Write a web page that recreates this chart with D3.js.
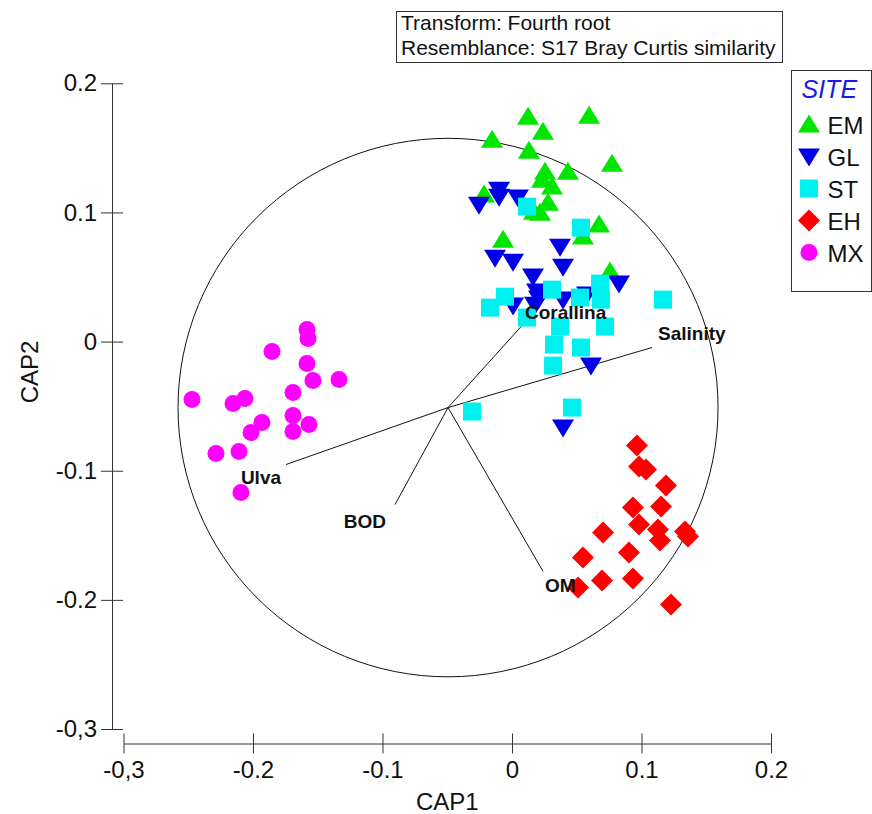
<!DOCTYPE html>
<html>
<head>
<meta charset="utf-8">
<script src="https://cdn.jsdelivr.net/npm/d3@7"></script>
<style>
  body { margin: 0; background: #fff; }
  text { font-family: "Liberation Sans", Arial, sans-serif; }
</style>
</head>
<body>
<div id="chart"></div>
<script>
// CONSTANTS
const width = 872;
const height = 814;

// DATA (CAP1, CAP2)
const emPoints = [
  [0.0124, 0.1741], [0.0595, 0.1749], [0.0239, 0.1625], [-0.0154, 0.1563],
  [0.0131, 0.1478], [0.0772, 0.1378], [0.0255, 0.1316], [0.0432, 0.1316],
  [0.0232, 0.1254], [0.0309, 0.12], [-0.0216, 0.1138], [0.0278, 0.1076],
  [0.0216, 0.0998], [0.017, 0.1006], [0.0672, 0.0906], [0.0548, 0.0813],
  [-0.0069, 0.0789], [0.0757, 0.0542]
];
const glPoints = [
  [-0.0255, 0.106], [-0.01, 0.1176], [-0.01, 0.1122], [0.0046, 0.1115],
  [0.0371, 0.0735], [-0.0131, 0.065], [0.0008, 0.0619], [0.0394, 0.058],
  [0.0162, 0.0503], [0.0193, 0.0387], [0.0208, 0.0333], [0.0394, 0.0325],
  [0.0579, 0.0364], [0.0826, 0.0449], [0.0008, 0.0279], [0.0178, 0.0286],
  [0.061, -0.0186], [0.0394, -0.0666]
];
const stPoints = [
  [0.0116, 0.1045], [0.0533, 0.0882], [-0.0054, 0.0348], [-0.017, 0.0263],
  [0.0309, 0.0402], [0.068, 0.0449], [0.0525, 0.0341], [0.0687, 0.0325],
  [0.0116, 0.0186], [0.0371, 0.0116], [0.0718, 0.0116], [0.1166, 0.0325],
  [0.0324, -0.0023], [0.0533, -0.0046], [0.0317, -0.0186], [-0.0309, -0.0542],
  [0.0463, -0.0511]
];
const ehPoints = [
  [0.0965, -0.0805], [0.0981, -0.0967], [0.1035, -0.0991], [0.1189, -0.1115],
  [0.0934, -0.1285], [0.1151, -0.1277], [0.0703, -0.1478], [0.0981, -0.1416],
  [0.1127, -0.1455], [0.1143, -0.154], [0.1336, -0.1471], [0.1359, -0.1509],
  [0.0548, -0.1672], [0.0903, -0.1633], [0.0695, -0.185], [0.0934, -0.1834],
  [0.051, -0.1904], [0.1228, -0.2036]
];
const mxPoints = [
  [-0.1583, 0.0093], [-0.1575, 0.0023], [-0.1853, -0.0077], [-0.1583, -0.017],
  [-0.1537, -0.0302], [-0.1336, -0.0294], [-0.1691, -0.0395], [-0.2471, -0.0449],
  [-0.2062, -0.0441], [-0.2154, -0.048], [-0.1691, -0.0573], [-0.1568, -0.0642],
  [-0.1931, -0.0627], [-0.2015, -0.0704], [-0.1691, -0.0697], [-0.2286, -0.0867],
  [-0.2108, -0.0851], [-0.2093, -0.1169]
];

const siteNames = ["EM", "GL", "ST", "EH", "MX"];
const siteColors = ["#00e600", "#0000e6", "#00f0f0", "#ff0000", "#ff00ff"];
const siteShapes = ["triUp", "triDown", "square", "diamond", "circle"];
const sitePoints = [emPoints, glPoints, stPoints, ehPoints, mxPoints];

// vector overlay: common origin, circle radius, vector tips (plot coords)
const vectorOrigin = [-0.0494, -0.0511];
const circleRadius = 0.2085;
const vectorNames = ["Corallina", "Salinity", "Ulva", "BOD", "OM"];
const vectorX = [0.0077, 0.1081, -0.1745, -0.0903, 0.024];
const vectorY = [0.0124, -0.0046, -0.0952, -0.1262, -0.178];

const xTicks = [-0.3, -0.2, -0.1, 0, 0.1, 0.2];
const xTickLabels = ["-0,3", "-0.2", "-0.1", "0", "0.1", "0.2"];
const yTicks = [0.2, 0.1, 0, -0.1, -0.2, -0.3];
const yTickLabels = ["0.2", "0.1", "0", "-0.1", "-0.2", "-0,3"];

const svg = d3
  .select("#chart")
  .append("svg")
  .attr("width", width)
  .attr("height", height)
  .style("background", "#fff");

const x = d3.scaleLinear().domain([-0.3, 0.2]).range([123.5, 771]);
const y = d3.scaleLinear().domain([-0.3, 0.2]).range([729, 83.3]);

// axes (PRIMER style: detached, ticks crossing the line)
const yAxis = svg
  .append("g")
  .attr("transform", "translate(112,0)")
  .call(
    d3.axisLeft(y)
      .tickValues(yTicks)
      .tickSizeInner(11)
      .tickSizeOuter(0)
      .tickPadding(4)
      .tickFormat((d, i) => yTickLabels[i])
  );
yAxis.selectAll(".tick line").attr("x1", 11);
yAxis.selectAll("text").style("font-size", "24px").attr("fill", "#111");
yAxis.selectAll("path, line").attr("stroke", "#333");

const xAxis = svg
  .append("g")
  .attr("transform", "translate(0,743.5)")
  .call(
    d3.axisBottom(x)
      .tickValues(xTicks)
      .tickSizeInner(10)
      .tickSizeOuter(0)
      .tickPadding(7)
      .tickFormat((d, i) => xTickLabels[i])
  );
xAxis.selectAll(".tick line").attr("y1", -10);
xAxis.selectAll("text").style("font-size", "24px").attr("fill", "#111");
xAxis.selectAll("path, line").attr("stroke", "#333");

svg
  .append("text")
  .attr("x", (x(-0.3) + x(0.2)) / 2)
  .attr("y", 810)
  .attr("text-anchor", "middle")
  .style("font-size", "24px")
  .attr("fill", "#111")
  .text("CAP1");

svg
  .append("text")
  .attr("transform", "translate(38,372) rotate(-90)")
  .attr("text-anchor", "middle")
  .style("font-size", "24px")
  .attr("fill", "#111")
  .text("CAP2");

// correlation circle
svg
  .append("ellipse")
  .attr("cx", x(vectorOrigin[0]))
  .attr("cy", y(vectorOrigin[1]))
  .attr("rx", x(vectorOrigin[0] + circleRadius) - x(vectorOrigin[0]))
  .attr("ry", y(vectorOrigin[1]) - y(vectorOrigin[1] + circleRadius))
  .attr("fill", "none")
  .attr("stroke", "#111")
  .attr("stroke-width", 1);

const vectors = vectorNames.map((name, i) => ({ name, vx: vectorX[i], vy: vectorY[i] }));

svg
  .selectAll(".vector")
  .data(vectors)
  .enter()
  .append("line")
  .classed("vector", true)
  .attr("x1", x(vectorOrigin[0]))
  .attr("y1", y(vectorOrigin[1]))
  .attr("x2", (d) => x(d.vx))
  .attr("y2", (d) => y(d.vy))
  .attr("stroke", "#111")
  .attr("stroke-width", 1);

// symbol paths, centred on 0,0
const shapePath = {
  triUp: "M0,-10L11,8L-11,8Z",
  triDown: "M0,10L11,-8L-11,-8Z",
  square: "M-9,-9H9V9H-9Z",
  diamond: "M0,-11L11,0L0,11L-11,0Z",
  circle: d3.symbol(d3.symbolCircle, Math.PI * 8.5 * 8.5)(),
};

siteNames.forEach((site, i) => {
  svg
    .selectAll(".pt-" + site)
    .data(sitePoints[i])
    .enter()
    .append("path")
    .attr("class", "pt-" + site)
    .attr("d", shapePath[siteShapes[i]])
    .attr("transform", (d) => `translate(${x(d[0])},${y(d[1])})`)
    .attr("fill", siteColors[i]);
});

// vector labels
const labelPos = {
  Corallina: { dx: 3, dy: -7, anchor: "start" },
  Salinity: { dx: 6, dy: -8, anchor: "start" },
  Ulva: { dx: -5, dy: 19, anchor: "end" },
  BOD: { dx: -9, dy: 23, anchor: "end" },
  OM: { dx: 2, dy: 21, anchor: "start" },
};

svg
  .selectAll(".vlabel")
  .data(vectors)
  .enter()
  .append("text")
  .classed("vlabel", true)
  .attr("x", (d) => x(d.vx) + labelPos[d.name].dx)
  .attr("y", (d) => y(d.vy) + labelPos[d.name].dy)
  .attr("text-anchor", (d) => labelPos[d.name].anchor)
  .style("font-size", "19px")
  .style("font-weight", "bold")
  .attr("fill", "#111")
  .text((d) => d.name);

// info box
svg
  .append("rect")
  .attr("x", 396.5)
  .attr("y", 11.5)
  .attr("width", 386)
  .attr("height", 51)
  .attr("fill", "#fff")
  .attr("stroke", "#333");
svg
  .append("text")
  .attr("x", 401)
  .attr("y", 30)
  .style("font-size", "21px")
  .attr("fill", "#111")
  .text("Transform: Fourth root");
svg
  .append("text")
  .attr("x", 401)
  .attr("y", 55)
  .style("font-size", "21px")
  .attr("fill", "#111")
  .text("Resemblance: S17 Bray Curtis similarity");

// legend
const legend = svg.append("g").attr("transform", "translate(791.5,70.5)");
legend
  .append("rect")
  .attr("width", 80)
  .attr("height", 221)
  .attr("fill", "#fff")
  .attr("stroke", "#333");
legend
  .append("text")
  .attr("x", 10)
  .attr("y", 27)
  .style("font-size", "25px")
  .style("font-style", "italic")
  .attr("fill", "#1a1ae6")
  .text("SITE");

const legendRows = legend
  .selectAll(".legend-row")
  .data(siteNames)
  .enter()
  .append("g")
  .attr("transform", (d, i) => `translate(0,${54 + i * 32})`);
legendRows
  .append("path")
  .attr("d", (d, i) => shapePath[siteShapes[i]])
  .attr("transform", "translate(17.5,0)")
  .attr("fill", (d, i) => siteColors[i]);
legendRows
  .append("text")
  .attr("x", 36)
  .attr("y", 9)
  .style("font-size", "24px")
  .attr("fill", "#111")
  .text((d) => d);
</script>
</body>
</html>
